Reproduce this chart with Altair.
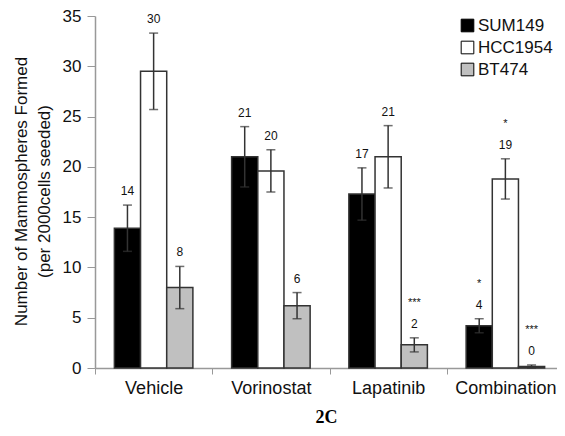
import altair as alt
import pandas as pd

categories = ["Vehicle", "Vorinostat", "Lapatinib", "Combination"]
series = ["SUM149", "HCC1954", "BT474"]
colors = ["#000000", "#ffffff", "#c0c0c0"]

sum149_mean = [13.9, 21.0, 17.3, 4.2]
sum149_err = [2.3, 3.0, 2.6, 0.7]
sum149_label = ["14", "21", "17", "4"]
sum149_star = ["", "", "", "*"]

hcc1954_mean = [29.5, 19.6, 21.0, 18.8]
hcc1954_err = [3.8, 2.1, 3.1, 2.0]
hcc1954_label = ["30", "20", "21", "19"]
hcc1954_star = ["", "", "", "*"]

bt474_mean = [8.0, 6.2, 2.3, 0.15]
bt474_err = [2.1, 1.3, 0.7, 0.15]
bt474_label = ["8", "6", "2", "0"]
bt474_star = ["", "", "***", "***"]

rows = []
for s, means, errs, labs, stars in [
    ("SUM149", sum149_mean, sum149_err, sum149_label, sum149_star),
    ("HCC1954", hcc1954_mean, hcc1954_err, hcc1954_label, hcc1954_star),
    ("BT474", bt474_mean, bt474_err, bt474_label, bt474_star),
]:
    for c, m, e, l, st in zip(categories, means, errs, labs, stars):
        rows.append({"cat": c, "series": s, "mean": m,
                     "lo": max(0, m - e), "hi": m + e,
                     "label": l, "star": st})
df = pd.DataFrame(rows)

FONT = "Liberation Sans"

x_enc = alt.X("cat:N", sort=categories,
              scale=alt.Scale(paddingInner=0, paddingOuter=0),
              axis=alt.Axis(title=None, labelFontSize=18, labelFont=FONT,
                            labelColor="#111", domainColor="#999",
                            tickColor="#999", tickSize=6, tickBand="extent",
                            labelPadding=5, labelAngle=0, domainWidth=1.5))
xo = alt.XOffset("series:N", sort=series,
                 scale=alt.Scale(paddingOuter=0.74, paddingInner=0))

base = alt.Chart(df)

bars = base.mark_bar(stroke="#333", strokeWidth=1.5).encode(
    x=x_enc,
    xOffset=xo,
    y=alt.Y("mean:Q", scale=alt.Scale(domain=[0, 35]),
            axis=alt.Axis(values=[0, 5, 10, 15, 20, 25, 30, 35],
                          title=["Number of Mammospheres Formed",
                                 "(per 2000cells seeded)"],
                          titleFontSize=17, titleFont=FONT,
                          titleFontWeight="normal", titleColor="#111",
                          titleLineHeight=23, titleX=-65, titleY=175,
                          labelFontSize=17, labelFont=FONT, labelColor="#111",
                          tickSize=8, labelPadding=6, grid=False,
                          domainColor="#999", tickColor="#999",
                          domainWidth=1.5)),
    fill=alt.Fill("series:N", sort=series,
                  scale=alt.Scale(domain=series, range=colors),
                  legend=alt.Legend(title=None, orient="none", legendX=364,
                                    legendY=1, symbolType="square",
                                    symbolSize=160, symbolStrokeColor="#000",
                                    symbolStrokeWidth=1, labelFontSize=17,
                                    labelFont=FONT, labelColor="#111",
                                    labelOffset=2, rowPadding=4, padding=0)),
)

rules = base.mark_rule(color="#333", strokeWidth=1.5).encode(
    x=alt.X("cat:N", sort=categories), xOffset=xo,
    y="lo:Q", y2="hi:Q")

tick_hi = base.mark_tick(color="#333", thickness=1.5, size=9).encode(
    x=alt.X("cat:N", sort=categories), xOffset=xo, y="hi:Q")
tick_lo = base.mark_tick(color="#333", thickness=1.5, size=9).encode(
    x=alt.X("cat:N", sort=categories), xOffset=xo, y="lo:Q")

labels = base.mark_text(baseline="bottom", dy=-7, fontSize=12, font=FONT,
                        color="#111").encode(
    x=alt.X("cat:N", sort=categories), xOffset=xo, y="hi:Q", text="label:N")

stars = base.mark_text(baseline="bottom", dy=-30, fontSize=11, font=FONT,
                       color="#111").encode(
    x=alt.X("cat:N", sort=categories), xOffset=xo, y="hi:Q", text="star:N")

chart = alt.layer(bars, rules, tick_hi, tick_lo, labels, stars).properties(
    width=469, height=352,
    autosize=alt.AutoSizeParams(type="none"),
    padding={"left": 87, "top": 8, "right": -7, "bottom": 60},
    title=alt.TitleParams(text="2C", orient="bottom", anchor="middle",
                          font="Liberation Serif", fontSize=18,
                          fontWeight="bold", color="#000", offset=12, dx=-3),
).configure_view(stroke=None)

chart.save("out.html", embed_options={"renderer": "svg", "actions": False})
